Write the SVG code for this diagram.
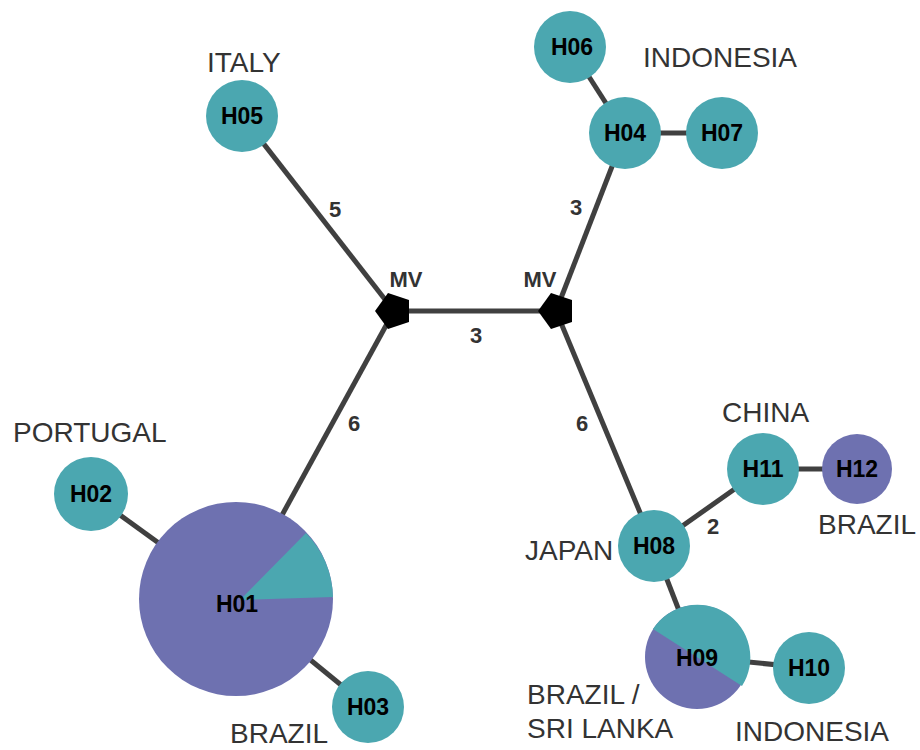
<svg xmlns="http://www.w3.org/2000/svg" width="920" height="750" viewBox="0 0 920 750">
<style>
.edge{stroke:#404040;stroke-width:5;fill:none}
.teal{fill:#4ba7b0}
.purple{fill:#6e71b0}
.nl{font-family:"Liberation Sans",Arial,sans-serif;font-weight:bold;font-size:23px;fill:#000;text-anchor:middle}
.cl{font-family:"Liberation Sans",Arial,sans-serif;font-size:28px;fill:#333}
.el{font-family:"Liberation Sans",Arial,sans-serif;font-weight:bold;font-size:22px;fill:#333;text-anchor:middle}
.mvl{font-family:"Liberation Sans",Arial,sans-serif;font-weight:bold;font-size:22px;fill:#333;text-anchor:middle}
.mv{fill:#000}
</style>
<rect width="920" height="750" fill="#fff"/>
<g id="connectors">
<line class="edge" x1="242" y1="116" x2="394" y2="311"/>
<line class="edge" x1="394" y1="311" x2="556" y2="311"/>
<line class="edge" x1="556" y1="311" x2="625" y2="133"/>
<line class="edge" x1="394" y1="311" x2="236" y2="599"/>
<line class="edge" x1="556" y1="311" x2="654" y2="546"/>
<line class="edge" x1="570" y1="47" x2="625" y2="133"/>
<line class="edge" x1="625" y1="133" x2="722" y2="133"/>
<line class="edge" x1="654" y1="546" x2="763" y2="469"/>
<line class="edge" x1="763" y1="469" x2="857" y2="469"/>
<line class="edge" x1="654" y1="546" x2="697" y2="657"/>
<line class="edge" x1="697" y1="657" x2="809" y2="668"/>
<line class="edge" x1="236" y1="599" x2="91" y2="494"/>
<line class="edge" x1="236" y1="599" x2="368" y2="707"/>
<text class="el" x="335" y="217">5</text>
<text class="el" x="576" y="215">3</text>
<text class="el" x="476" y="343">3</text>
<text class="el" x="354" y="431">6</text>
<text class="el" x="582" y="431">6</text>
<text class="el" x="713" y="534">2</text>
</g>
<g id="MV1">
<polygon class="mv" points="375,311 388,293 409,300 409,322 388,329"/>
<text class="mvl" x="406" y="287">MV</text>
</g>
<g id="MV2">
<polygon class="mv" points="538,311 551,293 572,300 572,322 551,329"/>
<text class="mvl" x="540" y="287">MV</text>
</g>
<g id="H01">
<circle class="purple" cx="236" cy="599" r="97"/>
<path class="teal" d="M240,600 L306,533 A97,97 0 0 1 333,597 Z"/>
<text class="nl" x="237" y="612">H01</text>
<text class="cl" x="230" y="743">BRAZIL</text>
</g>
<g id="H02">
<circle class="teal" cx="91" cy="494" r="37"/>
<text class="nl" x="91" y="502">H02</text>
<text class="cl" x="13" y="442">PORTUGAL</text>
</g>
<g id="H03">
<circle class="teal" cx="368" cy="707" r="36"/>
<text class="nl" x="368" y="715">H03</text>
</g>
<g id="H04">
<circle class="teal" cx="625" cy="133" r="36"/>
<text class="nl" x="625" y="141">H04</text>
<text class="cl" x="643" y="67">INDONESIA</text>
</g>
<g id="H05">
<circle class="teal" cx="242" cy="116" r="36"/>
<text class="nl" x="242" y="124">H05</text>
<text class="cl" x="207" y="72">ITALY</text>
</g>
<g id="H06">
<circle class="teal" cx="570" cy="47" r="36"/>
<text class="nl" x="572" y="55">H06</text>
</g>
<g id="H07">
<circle class="teal" cx="722" cy="133" r="36"/>
<text class="nl" x="722" y="141">H07</text>
</g>
<g id="H08">
<circle class="teal" cx="654" cy="546" r="36"/>
<text class="nl" x="654" y="554">H08</text>
<text class="cl" x="525" y="560">JAPAN</text>
</g>
<g id="H09">
<circle class="purple" cx="697" cy="657" r="52"/>
<path class="teal" d="M653,629 A52,52 0 0 1 742,686 Z"/>
<text class="nl" x="697" y="666">H09</text>
<text class="cl" x="527" y="704">BRAZIL /</text>
<text class="cl" x="527" y="738">SRI LANKA</text>
</g>
<g id="H10">
<circle class="teal" cx="809" cy="668" r="36"/>
<text class="nl" x="809" y="676">H10</text>
<text class="cl" x="735" y="741">INDONESIA</text>
</g>
<g id="H11">
<circle class="teal" cx="763" cy="469" r="36"/>
<text class="nl" x="763" y="477">H11</text>
<text class="cl" x="722" y="422">CHINA</text>
</g>
<g id="H12">
<circle class="purple" cx="857" cy="469" r="35"/>
<text class="nl" x="857" y="477">H12</text>
<text class="cl" x="818" y="534">BRAZIL</text>
</g>
</svg>
